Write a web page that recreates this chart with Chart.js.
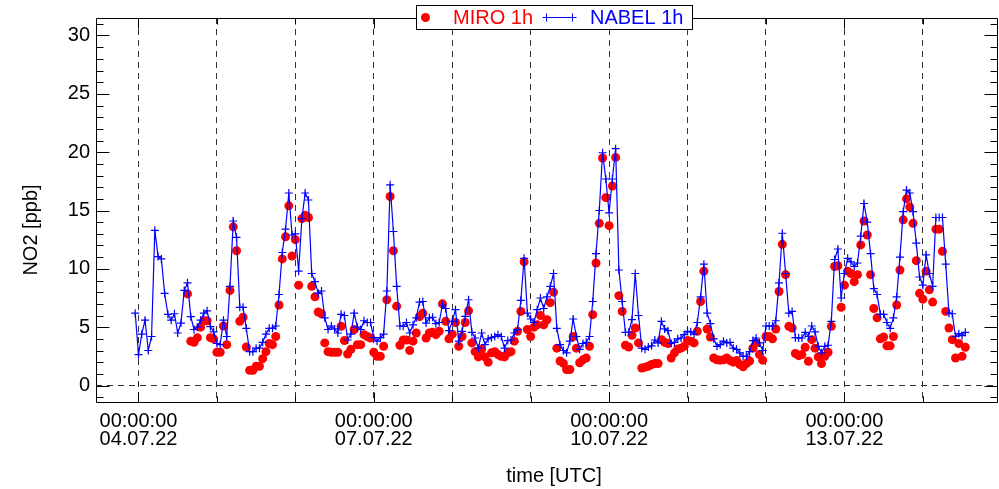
<!DOCTYPE html>
<html>
<head>
<meta charset="utf-8">
<script src="https://cdn.jsdelivr.net/npm/chart.js@4/dist/chart.umd.min.js"></script>
<style>
  html, body { margin: 0; padding: 0; background: #fff; }
  #wrap { width: 999px; height: 489px; }
</style>
</head>
<body>
<div id="wrap"><canvas id="no2Chart" width="999" height="489"></canvas></div>
<script>
// hours are counted from 04.07.22 00:00 UTC
const nabelStartHour = -1;
const nabel = [
    6.2,
    // 04.07
    2.65, 4.4, 5.6, 3.0, 4.2, 13.3, 11.05, 10.85, 7.9, 6.1, 5.6, 6.15, 4.5, 5.35, 8.15, 8.8, 5.9, 4.8, 5.0, 5.6, 6.2, 6.4, 5.05, 4.6,
    // 05.07
    3.6, 3.5, 5.6, 4.2, 8.5, 14.1, 12.7, 6.7, 6.7, 4.9, 2.9, 2.9, 3.2, 3.2, 3.7, 4.4, 4.9, 4.9, 5.1, 7.8, 11.4, 13.4, 16.5, 12.9,
    // 06.07
    13.0, 9.8, 14.3, 16.5, 15.9, 9.6, 8.9, 7.9, 8.1, 5.8, 4.8, 5.1, 4.85, 4.5, 6.1, 6.0, 3.9, 4.4, 6.2, 5.0, 4.8, 5.55, 5.4, 5.4,
    // 07.07
    4.1, 3.8, 4.1, 4.4, 8.1, 17.2, 13.2, 8.5, 5.1, 5.07, 5.4, 4.5, 5.2, 5.8, 7.15, 7.2, 5.35, 5.8, 5.85, 5.3, 5.4, 6.9, 6.6, 4.7,
    // 08.07
    5.5, 6.5, 3.8, 4.64, 5.93, 7.35, 4.56, 4.07, 3.2, 4.5, 3.5, 4.0, 4.1, 4.2, 4.36, 4.2, 3.2, 3.85, 3.9, 4.5, 4.8, 7.3, 10.9, 6.2,
    // 09.07
    5.7, 5.4, 6.5, 7.5, 6.6, 7.6, 8.5, 9.6, 4.9, 3.5, 3.0, 2.8, 3.8, 5.7, 4.2, 3.1, 3.6, 3.7, 4.2, 7.2, 11.3, 15.0, 19.95, 17.7,
    // 10.07
    14.8, 17.7, 20.3, 9.9, 7.2, 4.56, 4.56, 5.64, 9.6, 6.0, 3.2, 3.1, 3.3, 3.4, 3.9, 3.65, 5.5, 4.85, 4.7, 3.6, 3.7, 4.0, 4.07, 4.36,
    // 11.07
    4.64, 4.6, 4.4, 5.4, 7.6, 10.4, 6.2, 5.3, 4.0, 3.36, 3.5, 3.8, 3.65, 3.7, 3.2, 3.1, 2.8, 2.5, 2.5, 2.9, 3.85, 4.07, 3.65, 3.0,
    // 12.07
    5.1, 5.1, 5.1, 5.55, 8.8, 13.05, 9.6, 6.2, 6.35, 4.1, 4.07, 4.07, 4.56, 4.2, 5.1, 4.6, 3.36, 2.8, 3.36, 3.45, 5.5, 10.8, 11.7, 7.5,
    // 13.07
    9.6, 10.9, 10.6, 10.2, 10.5, 12.8, 15.6, 14.0, 11.3, 8.3, 7.8, 6.1, 6.1, 5.4, 4.9, 5.8, 7.6, 11.0, 14.9, 16.75, 16.5, 14.9, 12.2, 9.3,
    // 14.07
    8.6, 11.2, 9.6, 8.5, 14.4, 14.4, 14.4, 10.4, 6.2, 6.15, 4.2, 4.44, 4.27, 4.56
];

const miroStartHour = 15;
const miro = [
    // 04.07
    7.85, 3.8, 3.7, 4.1, 5.0, 5.55, 5.55, 4.1, 4.0,
    // 05.07
    2.85, 2.85, 5.1, 3.5, 8.15, 13.6, 11.55, 5.5, 5.85, 3.3, 1.3, 1.3, 1.65, 1.65, 2.3, 2.9, 3.6, 3.5, 4.2, 6.9, 10.85, 12.75, 15.4, 11.1,
    // 06.07
    12.5, 8.6, 14.3, 14.6, 14.4, 8.5, 7.6, 6.3, 6.15, 3.65, 2.9, 2.85, 2.85, 2.85, 5.07, 3.85, 2.7, 3.1, 4.8, 3.5, 3.5, 4.36, 4.2, 4.07,
    // 07.07
    2.85, 2.5, 2.5, 3.36, 7.35, 16.2, 11.55, 6.8, 3.45, 3.9, 3.9, 3.0, 3.8, 4.5, 5.9, 6.2, 4.07, 4.5, 4.56, 4.36, 4.64, 7.0, 5.5, 4.0,
    // 08.07
    4.4, 5.4, 3.36, 4.2, 5.4, 6.4, 3.65, 2.9, 2.45, 3.1, 2.45, 2.0, 2.8, 2.9, 2.65, 2.5, 2.45, 2.8, 2.9, 3.8, 4.64, 6.35, 10.6, 4.8,
    // 09.07
    4.2, 5.0, 5.2, 6.0, 5.2, 5.64, 7.1, 8.0, 3.2, 2.1, 1.9, 1.37, 1.37, 4.2, 3.2, 1.95, 2.2, 2.36, 3.36, 6.07, 10.5, 13.9, 19.5, 16.1,
    // 10.07
    13.7, 17.1, 19.55, 7.7, 6.35, 3.45, 3.3, 4.3, 4.93, 3.65, 1.5, 1.57, 1.65, 1.8, 1.88, 1.88, 3.93, 3.7, 3.6, 2.36, 2.8, 3.13, 3.2, 3.36,
    // 11.07
    3.85, 3.8, 3.65, 4.64, 7.2, 9.8, 4.84, 4.16, 2.36, 2.2, 2.17, 2.2, 2.36, 2.14, 2.0, 2.14, 1.8, 1.6, 1.88, 2.1, 3.2, 3.65, 2.65, 2.17,
    // 12.07
    4.2, 4.2, 4.0, 4.84, 8.06, 12.1, 9.5, 5.07, 4.93, 2.74, 2.56, 2.65, 3.28, 2.08, 3.93, 3.2, 2.45, 1.88, 2.5, 2.85, 5.07, 10.2, 10.26, 6.7,
    // 13.07
    8.6, 9.8, 9.6, 8.9, 9.5, 12.05, 14.1, 12.9, 9.5, 6.6, 5.8, 4.0, 4.16, 3.4, 3.4, 4.2, 6.9, 9.9, 14.2, 16.0, 15.3, 13.9, 10.7, 7.9,
    // 14.07
    7.4, 9.8, 8.2, 7.15, 13.4, 13.4, 11.5, 6.35, 4.93, 3.93, 2.36, 3.6, 2.5, 3.28
];

// x axis: one dashed line per day, labels every third day
const dayHours = [0, 24, 48, 72, 96, 120, 144, 168, 192, 216, 240];
const labelHours = [0, 72, 144, 216];
const labelDates = ['04.07.22', '07.07.22', '10.07.22', '13.07.22'];
const yTicks = [0, 5, 10, 15, 20, 25, 30];

const FONT = "'Liberation Sans', Arial, Helvetica, sans-serif";

const nabelPoints = nabel.map((v, i) => ({ x: nabelStartHour + i, y: v }));
const miroPoints = miro.map((v, i) => ({ x: miroStartHour + i, y: v }));

// frame, inward tick marks, legend box and axis titles
const framePlugin = {
    id: 'frame',
    afterDraw(chart) {
        const ctx = chart.ctx;
        const a = chart.chartArea;
        const x = chart.scales.x;
        const y = chart.scales.y;
        const L = a.left + 0.5, R = a.right - 0.5, T = a.top + 0.5, B = a.bottom - 0.5;

        ctx.save();
        ctx.strokeStyle = '#000';
        ctx.lineWidth = 1;
        ctx.setLineDash([]);
        ctx.beginPath();
        ctx.rect(L, T, R - L, B - T);

        for (let v = -1; v <= 31; v++) {
            const py = Math.round(y.getPixelForValue(v)) + 0.5;
            const len = v % 5 === 0 ? 13 : 7;
            ctx.moveTo(L, py); ctx.lineTo(L + len, py);
            ctx.moveTo(R, py); ctx.lineTo(R - len, py);
        }
        dayHours.forEach(h => {
            const px = Math.round(x.getPixelForValue(h)) + 0.5;
            const len = labelHours.includes(h) ? 10 : 6;
            ctx.moveTo(px, B); ctx.lineTo(px, B - len);
            ctx.moveTo(px, T); ctx.lineTo(px, T + len);
        });
        ctx.stroke();

        // legend
        const lx = 416.5, ly = 5.5, lw = 276, lh = 24, cy = 17.5;
        ctx.fillStyle = '#fff';
        ctx.fillRect(lx, ly, lw, lh);
        ctx.strokeRect(lx, ly, lw, lh);

        ctx.fillStyle = '#ff0000';
        ctx.beginPath();
        ctx.arc(425.5, cy, 4.5, 0, Math.PI * 2);
        ctx.fill();

        ctx.strokeStyle = '#0000ff';
        ctx.beginPath();
        ctx.moveTo(546, cy); ctx.lineTo(573, cy);
        [546.5, 572.5].forEach(cx => {
            ctx.moveTo(cx, cy - 4); ctx.lineTo(cx, cy + 4);
            ctx.moveTo(cx - 4, cy); ctx.lineTo(cx + 4, cy);
        });
        ctx.stroke();

        ctx.font = '20px ' + FONT;
        ctx.textBaseline = 'middle';
        ctx.textAlign = 'left';
        ctx.fillStyle = '#ff0000';
        ctx.fillText('MIRO 1h', 453, cy + 1);
        ctx.fillStyle = '#0000ff';
        ctx.fillText('NABEL 1h', 590, cy + 1);

        // axis titles
        ctx.fillStyle = '#000';
        ctx.textAlign = 'center';
        ctx.fillText('time [UTC]', 554, 476);

        ctx.translate(31, 230);
        ctx.rotate(-Math.PI / 2);
        ctx.fillText('NO2 [ppb]', 0, 0);
        ctx.restore();
    }
};

new Chart(document.getElementById('no2Chart'), {
    type: 'line',
    data: {
        datasets: [
            {
                label: 'MIRO 1h',
                data: miroPoints,
                showLine: false,
                pointStyle: 'circle',
                pointRadius: 4.5,
                pointBorderWidth: 0,
                pointBackgroundColor: '#ff0000',
                pointBorderColor: '#ff0000',
                order: 1
            },
            {
                label: 'NABEL 1h',
                data: nabelPoints,
                borderColor: '#0000ff',
                borderWidth: 1.2,
                tension: 0,
                pointStyle: 'cross',
                pointRadius: 4,
                pointBorderWidth: 1.2,
                pointBorderColor: '#0000ff',
                order: 0
            }
        ]
    },
    options: {
        responsive: false,
        animation: false,
        devicePixelRatio: 1,
        layout: { autoPadding: false, padding: { top: 17, right: 1, left: 0, bottom: 0 } },
        plugins: {
            legend: { display: false },
            tooltip: { enabled: false }
        },
        scales: {
            x: {
                type: 'linear',
                min: -13,
                max: 263,
                afterBuildTicks: scale => { scale.ticks = dayHours.map(v => ({ value: v })); },
                afterFit: scale => { scale.height = 86; },
                grid: {
                    drawTicks: false,
                    color: '#333',
                    lineWidth: 1
                },
                border: { display: false, dash: [6, 5] },
                ticks: {
                    autoSkip: false,
                    maxRotation: 0,
                    padding: 9,
                    color: '#000',
                    font: { family: FONT, size: 20, lineHeight: 0.9 },
                    callback: v => {
                        const k = labelHours.indexOf(v);
                        return k >= 0 ? ['00:00:00', labelDates[k]] : '';
                    }
                }
            },
            y: {
                min: -1.5,
                max: 31.5,
                afterBuildTicks: scale => { scale.ticks = yTicks.map(v => ({ value: v })); },
                afterFit: scale => { scale.width = 96; },
                grid: {
                    drawTicks: false,
                    color: ctx => (ctx.tick && ctx.tick.value === 0 ? '#333' : 'rgba(0,0,0,0)'),
                    lineWidth: 1
                },
                border: { display: false, dash: [6, 5] },
                ticks: {
                    padding: 6,
                    color: '#000',
                    font: { family: FONT, size: 20 }
                }
            }
        }
    },
    plugins: [framePlugin]
});
</script>
</body>
</html>
